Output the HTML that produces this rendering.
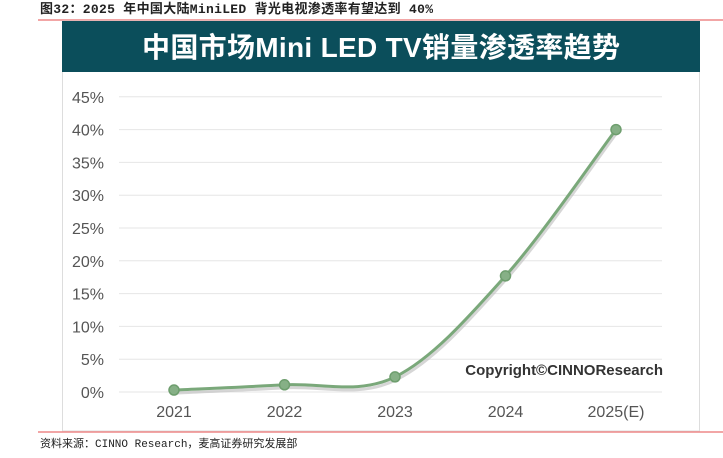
<!DOCTYPE html>
<html><head><meta charset="utf-8"><style>
body{margin:0;width:723px;height:453px;background:#fff;overflow:hidden;font-family:"Liberation Sans","Noto Sans CJK SC",sans-serif}
</style></head><body>
<svg width="723" height="453" xmlns="http://www.w3.org/2000/svg">
<text x="40" y="13" font-size="13" font-weight="bold" font-family="Liberation Mono,'Noto Sans CJK SC',monospace" fill="#222" textLength="393">图32：2025 年中国大陆MiniLED 背光电视渗透率有望达到 40%</text>
<line x1="38" y1="20" x2="723" y2="20" stroke="#e88" stroke-width="1.5"/>
<rect x="62.5" y="21" width="637" height="410" fill="#fff" stroke="#ddd"/>
<rect x="62" y="21" width="638" height="51" fill="#0b4e5b"/>
<text x="381" y="57" text-anchor="middle" font-size="28" font-weight="bold" fill="#fff" textLength="478">中国市场Mini LED TV销量渗透率趋势</text>
<g id="grid"></g><g id="series"></g>
<text x="663" y="375" text-anchor="end" font-size="15" font-weight="bold" fill="#333">Copyright©CINNOResearch</text>
<line x1="38" y1="432" x2="723" y2="432" stroke="#e88" stroke-width="1.5"/>
<text x="40" y="447" font-size="11" font-family="Liberation Mono,'Noto Sans CJK SC',monospace" fill="#222">资料来源：CINNO Research，麦高证券研究发展部</text>
</svg>
<script>
const categories=["2021","2022","2023","2024","2025(E)"];
const values=[0.3,1.1,2.3,17.7,40];
const yTicks=[0,5,10,15,20,25,30,35,40,45];
const NS="http://www.w3.org/2000/svg";
const x0=174,dx=110.5,yBase=392,pxPer=6.56;
const X=i=>x0+i*dx, Y=v=>yBase-v*pxPer;
function mk(t,a,p){const e=document.createElementNS(NS,t);for(const k in a)e.setAttribute(k,a[k]);p.appendChild(e);return e;}
const g=document.getElementById('grid'),s=document.getElementById('series');
yTicks.forEach(v=>{
 const l=mk('line',{x1:119,x2:662,y1:Y(v),y2:Y(v),stroke:'#e6e6e6','stroke-width':1},g);
 
 
 const t=mk('text',{x:104,y:Y(v)+6,'text-anchor':'end','font-size':16,fill:'#555'},g);
 t.textContent=v+'%';
 
 
});
categories.forEach((c,i)=>{
 const t=mk('text',{x:X(i),y:417,'text-anchor':'middle','font-size':16,fill:'#555'},g);
 t.textContent=c;
 
 
});
const pts=values.map((v,i)=>[X(i),Y(v)]);
let d='M'+pts[0];
for(let i=0;i<pts.length-1;i++){
 const p0=pts[i-1]||pts[i],p1=pts[i],p2=pts[i+1],p3=pts[i+2]||p2,k=6;
 d+=' C'+(p1[0]+(p2[0]-p0[0])/k)+','+(p1[1]+(p2[1]-p0[1])/k)+' '+(p2[0]-(p3[0]-p1[0])/k)+','+(p2[1]-(p3[1]-p1[1])/k)+' '+p2;
}
const sh=mk('path',{d:d,fill:'none',stroke:'#bbb','stroke-width':3,transform:'translate(1,3)',opacity:0.6},s);


const ln=mk('path',{d:d,fill:'none',stroke:'#7aa87a','stroke-width':3},s);


pts.forEach(p=>{
 const c=mk('circle',{cx:p[0],cy:p[1],r:5,fill:'#86b086',stroke:'#6e9e6e','stroke-width':1.5},s);
 
 
});
</script>
</body></html>
